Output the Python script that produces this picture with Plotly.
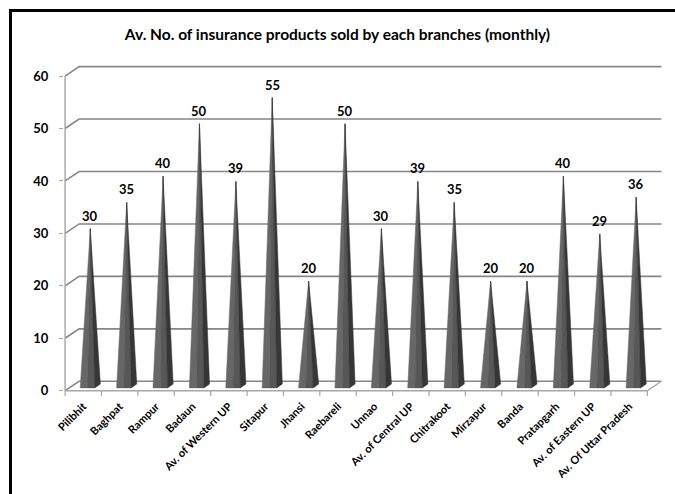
import plotly.graph_objects as go

# Average monthly insurance products sold per branch
categories = [
    "Pilibhit", "Baghpat", "Rampur", "Badaun", "Av. of Western UP",
    "Sitapur", "Jhansi", "Raebareli", "Unnao", "Av. of Central UP",
    "Chitrakoot", "Mirzapur", "Banda", "Pratapgarh", "Av. of Eastern UP",
    "Av. Of Uttar Pradesh",
]
values = [30, 35, 40, 50, 39, 55, 20, 50, 30, 39, 35, 20, 20, 40, 29, 36]
y_ticks = [0, 10, 20, 30, 40, 50, 60]

FONT = "Lato"
GRID = "#868686"
FLOOR = "#a6a6a6"
FRONT = "#575757"
FRONT_LIGHT = "#676767"
SIDE = "#363636"

# pseudo-3D depth offset, in axis units
DX = 0.385
DY = 1.8
HALF_W = 0.2          # half width of a pyramid base
D0, D1 = 0.3, 0.7     # front / back depth of a pyramid base

n = len(categories)
x_left, x_right = -0.5, n - 0.5

fig = go.Figure()

# back-wall gridlines with their depth connectors
gx, gy = [], []
for v in y_ticks:
    gx += [x_left, x_left + DX, x_right + DX, None]
    gy += [v, v + DY, v + DY, None]
fig.add_trace(go.Scatter(x=gx, y=gy, mode="lines",
                         line=dict(color=GRID, width=1.6), hoverinfo="skip"))

# floor front / right edges and front value axis
fx = [x_left, x_right, x_right + DX, None, x_left, x_left]
fy = [0, 0, DY, None, 0, y_ticks[-1]]
fig.add_trace(go.Scatter(x=fx, y=fy, mode="lines",
                         line=dict(color=FLOOR, width=1.4), hoverinfo="skip"))

# category tick marks under the floor edge
tx, ty = [], []
for k in range(n + 1):
    tx += [x_left + k, x_left + k, None]
    ty += [0, -1.0, None]
fig.add_trace(go.Scatter(x=tx, y=ty, mode="lines",
                         line=dict(color=FLOOR, width=1.2), hoverinfo="skip"))

# pyramids: front face (two tones) and right side face
lx, ly, rx, ry, sx, sy = [], [], [], [], [], []
for i, v in enumerate(values):
    fl = (i - HALF_W + D0 * DX, D0 * DY)
    fr = (i + HALF_W + D0 * DX, D0 * DY)
    br = (i + HALF_W + D1 * DX, D1 * DY)
    ap = (i + 0.5 * DX, v + 0.5 * DY)
    mid = ((fl[0] + fr[0]) / 2, D0 * DY)
    lx += [fl[0], mid[0], ap[0], fl[0], None]
    ly += [fl[1], mid[1], ap[1], fl[1], None]
    rx += [mid[0], fr[0], ap[0], mid[0], None]
    ry += [mid[1], fr[1], ap[1], mid[1], None]
    sx += [fr[0], br[0], ap[0], fr[0], None]
    sy += [fr[1], br[1], ap[1], fr[1], None]

for px_, py_, col in [(lx, ly, FRONT_LIGHT), (rx, ry, FRONT), (sx, sy, SIDE)]:
    fig.add_trace(go.Scatter(x=px_, y=py_, mode="lines", fill="toself",
                             fillcolor=col, line=dict(color=col, width=0.5),
                             hoverinfo="skip"))

# value labels above each apex
for i, v in enumerate(values):
    fig.add_annotation(x=i + 0.5 * DX, y=v + 0.5 * DY, text=str(v),
                       showarrow=False, yanchor="bottom", yshift=3,
                       font=dict(family=FONT, size=13, color="black",
                                 weight="bold"))

W, H = 675, 494
L, R, T, B = 64, 12, 64, 97
pw, ph = W - L - R, H - T - B

# outer frame: a bordered empty box whose right and bottom run off the page
fig.add_annotation(xref="paper", yref="paper",
                   x=(9 - L) / pw, y=(H - B - 9) / ph,
                   xanchor="left", yanchor="top", text=" ", showarrow=False,
                   width=W + 40, height=H + 40, borderpad=0,
                   bordercolor="black", borderwidth=3)

fig.update_layout(
    width=W, height=H,
    margin=dict(l=L, r=R, t=T, b=B),
    paper_bgcolor="white", plot_bgcolor="white",
    showlegend=False,
    title=dict(text="Av. No. of insurance products sold by each branches (monthly)",
               x=0.5, xref="container", xanchor="center",
               y=1 - 35 / H, yref="container", yanchor="middle",
               font=dict(family=FONT, size=15.5, color="black", weight="bold")),
    xaxis=dict(range=[-0.53, 15.93], tickmode="array",
               tickvals=list(range(n)), ticktext=categories, tickangle=-45,
               ticks="", showgrid=False, zeroline=False, showline=False,
               tickfont=dict(family=FONT, size=11, color="black", weight="bold")),
    yaxis=dict(range=[-1.2, 62.3], tickmode="array", tickvals=y_ticks,
               ticks="outside", ticklen=4, tickcolor=FLOOR, tickwidth=1.2,
               ticklabelstandoff=8,
               showgrid=False, zeroline=False, showline=False,
               tickfont=dict(family=FONT, size=13, color="black", weight="bold")),
)

fig.write_html("out.html")
